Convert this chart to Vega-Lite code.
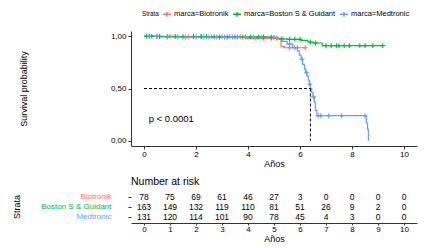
{
  "$schema": "https://vega.github.io/schema/vega-lite/v6.json",
  "autosize": {"type": "pad"},
  "padding": {"left": 12, "top": 9, "right": 5, "bottom": 5},
  "background": "white",
  "config": {
    "font": "Liberation Sans",
    "view": {"stroke": null},
    "axis": {"grid": false, "labelFont": "Liberation Sans", "titleFont": "Liberation Sans", "labelColor": "#000000", "titleColor": "#000000", "titleFontWeight": "normal", "domainColor": "#333333", "tickColor": "#333333", "labelFontSize": 8, "titleFontSize": 9, "labelOverlap": false}
  },
  "datasets": {
    "surv": [
      {"strata": "marca=Biotronik", "time": 0, "surv": 1.0, "censor": 0},
      {"strata": "marca=Biotronik", "time": 0.2, "surv": 1.0, "censor": 1},
      {"strata": "marca=Biotronik", "time": 0.5, "surv": 1.0, "censor": 1},
      {"strata": "marca=Biotronik", "time": 1.0, "surv": 1.0, "censor": 1},
      {"strata": "marca=Biotronik", "time": 1.4, "surv": 0.995, "censor": 0},
      {"strata": "marca=Biotronik", "time": 1.7, "surv": 0.995, "censor": 1},
      {"strata": "marca=Biotronik", "time": 2.2, "surv": 0.995, "censor": 1},
      {"strata": "marca=Biotronik", "time": 2.6, "surv": 0.995, "censor": 1},
      {"strata": "marca=Biotronik", "time": 3.0, "surv": 0.995, "censor": 1},
      {"strata": "marca=Biotronik", "time": 3.3, "surv": 0.995, "censor": 1},
      {"strata": "marca=Biotronik", "time": 3.7, "surv": 0.995, "censor": 1},
      {"strata": "marca=Biotronik", "time": 3.9, "surv": 0.98, "censor": 0},
      {"strata": "marca=Biotronik", "time": 4.3, "surv": 0.98, "censor": 1},
      {"strata": "marca=Biotronik", "time": 4.6, "surv": 0.98, "censor": 1},
      {"strata": "marca=Biotronik", "time": 4.9, "surv": 0.98, "censor": 1},
      {"strata": "marca=Biotronik", "time": 5.1, "surv": 0.98, "censor": 1},
      {"strata": "marca=Biotronik", "time": 5.27, "surv": 0.9, "censor": 0},
      {"strata": "marca=Biotronik", "time": 5.4, "surv": 0.89, "censor": 0},
      {"strata": "marca=Biotronik", "time": 5.6, "surv": 0.89, "censor": 1},
      {"strata": "marca=Biotronik", "time": 5.9, "surv": 0.89, "censor": 1},
      {"strata": "marca=Biotronik", "time": 6.2, "surv": 0.89, "censor": 1},

      {"strata": "marca=Boston S & Guidant", "time": 0, "surv": 1.0, "censor": 0},
      {"strata": "marca=Boston S & Guidant", "time": 0.1, "surv": 1.0, "censor": 1},
      {"strata": "marca=Boston S & Guidant", "time": 0.3, "surv": 1.0, "censor": 1},
      {"strata": "marca=Boston S & Guidant", "time": 0.5, "surv": 0.997, "censor": 0},
      {"strata": "marca=Boston S & Guidant", "time": 0.6, "surv": 0.997, "censor": 1},
      {"strata": "marca=Boston S & Guidant", "time": 0.9, "surv": 0.997, "censor": 1},
      {"strata": "marca=Boston S & Guidant", "time": 1.2, "surv": 0.997, "censor": 1},
      {"strata": "marca=Boston S & Guidant", "time": 1.5, "surv": 0.997, "censor": 1},
      {"strata": "marca=Boston S & Guidant", "time": 1.9, "surv": 0.997, "censor": 1},
      {"strata": "marca=Boston S & Guidant", "time": 2.2, "surv": 0.997, "censor": 1},
      {"strata": "marca=Boston S & Guidant", "time": 2.4, "surv": 0.997, "censor": 1},
      {"strata": "marca=Boston S & Guidant", "time": 2.5, "surv": 0.993, "censor": 0},
      {"strata": "marca=Boston S & Guidant", "time": 2.7, "surv": 0.993, "censor": 1},
      {"strata": "marca=Boston S & Guidant", "time": 2.9, "surv": 0.993, "censor": 1},
      {"strata": "marca=Boston S & Guidant", "time": 3.2, "surv": 0.993, "censor": 1},
      {"strata": "marca=Boston S & Guidant", "time": 3.5, "surv": 0.993, "censor": 1},
      {"strata": "marca=Boston S & Guidant", "time": 3.8, "surv": 0.993, "censor": 1},
      {"strata": "marca=Boston S & Guidant", "time": 4.1, "surv": 0.993, "censor": 1},
      {"strata": "marca=Boston S & Guidant", "time": 4.4, "surv": 0.993, "censor": 1},
      {"strata": "marca=Boston S & Guidant", "time": 4.6, "surv": 0.993, "censor": 1},
      {"strata": "marca=Boston S & Guidant", "time": 4.8, "surv": 0.99, "censor": 0},
      {"strata": "marca=Boston S & Guidant", "time": 4.9, "surv": 0.99, "censor": 1},
      {"strata": "marca=Boston S & Guidant", "time": 5.15, "surv": 0.975, "censor": 0},
      {"strata": "marca=Boston S & Guidant", "time": 5.3, "surv": 0.975, "censor": 1},
      {"strata": "marca=Boston S & Guidant", "time": 5.5, "surv": 0.97, "censor": 0},
      {"strata": "marca=Boston S & Guidant", "time": 5.6, "surv": 0.97, "censor": 1},
      {"strata": "marca=Boston S & Guidant", "time": 5.8, "surv": 0.97, "censor": 1},
      {"strata": "marca=Boston S & Guidant", "time": 6.0, "surv": 0.97, "censor": 1},
      {"strata": "marca=Boston S & Guidant", "time": 6.05, "surv": 0.96, "censor": 0},
      {"strata": "marca=Boston S & Guidant", "time": 6.3, "surv": 0.945, "censor": 0},
      {"strata": "marca=Boston S & Guidant", "time": 6.4, "surv": 0.945, "censor": 1},
      {"strata": "marca=Boston S & Guidant", "time": 6.5, "surv": 0.935, "censor": 0},
      {"strata": "marca=Boston S & Guidant", "time": 6.6, "surv": 0.935, "censor": 1},
      {"strata": "marca=Boston S & Guidant", "time": 6.85, "surv": 0.91, "censor": 0},
      {"strata": "marca=Boston S & Guidant", "time": 7.0, "surv": 0.91, "censor": 1},
      {"strata": "marca=Boston S & Guidant", "time": 7.2, "surv": 0.91, "censor": 1},
      {"strata": "marca=Boston S & Guidant", "time": 7.4, "surv": 0.91, "censor": 1},
      {"strata": "marca=Boston S & Guidant", "time": 7.5, "surv": 0.91, "censor": 1},
      {"strata": "marca=Boston S & Guidant", "time": 7.7, "surv": 0.91, "censor": 1},
      {"strata": "marca=Boston S & Guidant", "time": 7.9, "surv": 0.91, "censor": 1},
      {"strata": "marca=Boston S & Guidant", "time": 8.3, "surv": 0.91, "censor": 1},
      {"strata": "marca=Boston S & Guidant", "time": 8.5, "surv": 0.91, "censor": 1},
      {"strata": "marca=Boston S & Guidant", "time": 8.8, "surv": 0.91, "censor": 1},
      {"strata": "marca=Boston S & Guidant", "time": 9.18, "surv": 0.91, "censor": 1},

      {"strata": "marca=Medtronic", "time": 0, "surv": 1.0, "censor": 0},
      {"strata": "marca=Medtronic", "time": 0.2, "surv": 1.0, "censor": 1},
      {"strata": "marca=Medtronic", "time": 0.5, "surv": 1.0, "censor": 1},
      {"strata": "marca=Medtronic", "time": 0.7, "surv": 0.993, "censor": 0},
      {"strata": "marca=Medtronic", "time": 0.9, "surv": 0.993, "censor": 1},
      {"strata": "marca=Medtronic", "time": 1.3, "surv": 0.993, "censor": 1},
      {"strata": "marca=Medtronic", "time": 1.6, "surv": 0.993, "censor": 1},
      {"strata": "marca=Medtronic", "time": 2.0, "surv": 0.993, "censor": 1},
      {"strata": "marca=Medtronic", "time": 2.3, "surv": 0.993, "censor": 1},
      {"strata": "marca=Medtronic", "time": 2.5, "surv": 0.993, "censor": 1},
      {"strata": "marca=Medtronic", "time": 2.8, "surv": 0.993, "censor": 1},
      {"strata": "marca=Medtronic", "time": 3.1, "surv": 0.993, "censor": 1},
      {"strata": "marca=Medtronic", "time": 3.4, "surv": 0.993, "censor": 1},
      {"strata": "marca=Medtronic", "time": 3.6, "surv": 0.993, "censor": 1},
      {"strata": "marca=Medtronic", "time": 3.9, "surv": 0.993, "censor": 1},
      {"strata": "marca=Medtronic", "time": 4.0, "surv": 0.99, "censor": 0},
      {"strata": "marca=Medtronic", "time": 4.2, "surv": 0.99, "censor": 1},
      {"strata": "marca=Medtronic", "time": 4.5, "surv": 0.99, "censor": 1},
      {"strata": "marca=Medtronic", "time": 5.0, "surv": 0.99, "censor": 1},
      {"strata": "marca=Medtronic", "time": 5.1, "surv": 0.975, "censor": 0},
      {"strata": "marca=Medtronic", "time": 5.3, "surv": 0.95, "censor": 0},
      {"strata": "marca=Medtronic", "time": 5.5, "surv": 0.925, "censor": 0},
      {"strata": "marca=Medtronic", "time": 5.6, "surv": 0.925, "censor": 1},
      {"strata": "marca=Medtronic", "time": 5.72, "surv": 0.89, "censor": 0},
      {"strata": "marca=Medtronic", "time": 5.8, "surv": 0.89, "censor": 1},
      {"strata": "marca=Medtronic", "time": 5.9, "surv": 0.86, "censor": 0},
      {"strata": "marca=Medtronic", "time": 5.97, "surv": 0.82, "censor": 0},
      {"strata": "marca=Medtronic", "time": 6.04, "surv": 0.78, "censor": 0},
      {"strata": "marca=Medtronic", "time": 6.08, "surv": 0.78, "censor": 1},
      {"strata": "marca=Medtronic", "time": 6.1, "surv": 0.73, "censor": 0},
      {"strata": "marca=Medtronic", "time": 6.17, "surv": 0.685, "censor": 0},
      {"strata": "marca=Medtronic", "time": 6.22, "surv": 0.65, "censor": 0},
      {"strata": "marca=Medtronic", "time": 6.25, "surv": 0.65, "censor": 1},
      {"strata": "marca=Medtronic", "time": 6.27, "surv": 0.62, "censor": 0},
      {"strata": "marca=Medtronic", "time": 6.32, "surv": 0.58, "censor": 0},
      {"strata": "marca=Medtronic", "time": 6.36, "surv": 0.54, "censor": 0},
      {"strata": "marca=Medtronic", "time": 6.38, "surv": 0.54, "censor": 1},
      {"strata": "marca=Medtronic", "time": 6.4, "surv": 0.5, "censor": 0},
      {"strata": "marca=Medtronic", "time": 6.45, "surv": 0.46, "censor": 0},
      {"strata": "marca=Medtronic", "time": 6.5, "surv": 0.42, "censor": 0},
      {"strata": "marca=Medtronic", "time": 6.52, "surv": 0.42, "censor": 1},
      {"strata": "marca=Medtronic", "time": 6.55, "surv": 0.37, "censor": 0},
      {"strata": "marca=Medtronic", "time": 6.59, "surv": 0.29, "censor": 0},
      {"strata": "marca=Medtronic", "time": 6.65, "surv": 0.24, "censor": 0},
      {"strata": "marca=Medtronic", "time": 6.7, "surv": 0.24, "censor": 1},
      {"strata": "marca=Medtronic", "time": 6.8, "surv": 0.24, "censor": 1},
      {"strata": "marca=Medtronic", "time": 7.1, "surv": 0.24, "censor": 1},
      {"strata": "marca=Medtronic", "time": 7.6, "surv": 0.24, "censor": 1},
      {"strata": "marca=Medtronic", "time": 8.5, "surv": 0.24, "censor": 1},
      {"strata": "marca=Medtronic", "time": 8.55, "surv": 0.17, "censor": 0},
      {"strata": "marca=Medtronic", "time": 8.6, "surv": 0.11, "censor": 0},
      {"strata": "marca=Medtronic", "time": 8.63, "surv": 0.0, "censor": 0}
    ],
    "risk": [
      {"strata": "Biotronik", "time": 0, "n": 78}, {"strata": "Biotronik", "time": 1, "n": 75}, {"strata": "Biotronik", "time": 2, "n": 69}, {"strata": "Biotronik", "time": 3, "n": 61}, {"strata": "Biotronik", "time": 4, "n": 46}, {"strata": "Biotronik", "time": 5, "n": 27}, {"strata": "Biotronik", "time": 6, "n": 3}, {"strata": "Biotronik", "time": 7, "n": 0}, {"strata": "Biotronik", "time": 8, "n": 0}, {"strata": "Biotronik", "time": 9, "n": 0}, {"strata": "Biotronik", "time": 10, "n": 0},
      {"strata": "Boston S & Guidant", "time": 0, "n": 163}, {"strata": "Boston S & Guidant", "time": 1, "n": 149}, {"strata": "Boston S & Guidant", "time": 2, "n": 132}, {"strata": "Boston S & Guidant", "time": 3, "n": 119}, {"strata": "Boston S & Guidant", "time": 4, "n": 110}, {"strata": "Boston S & Guidant", "time": 5, "n": 81}, {"strata": "Boston S & Guidant", "time": 6, "n": 51}, {"strata": "Boston S & Guidant", "time": 7, "n": 26}, {"strata": "Boston S & Guidant", "time": 8, "n": 9}, {"strata": "Boston S & Guidant", "time": 9, "n": 2}, {"strata": "Boston S & Guidant", "time": 10, "n": 0},
      {"strata": "Medtronic", "time": 0, "n": 131}, {"strata": "Medtronic", "time": 1, "n": 120}, {"strata": "Medtronic", "time": 2, "n": 114}, {"strata": "Medtronic", "time": 3, "n": 101}, {"strata": "Medtronic", "time": 4, "n": 90}, {"strata": "Medtronic", "time": 5, "n": 78}, {"strata": "Medtronic", "time": 6, "n": 45}, {"strata": "Medtronic", "time": 7, "n": 4}, {"strata": "Medtronic", "time": 8, "n": 3}, {"strata": "Medtronic", "time": 9, "n": 0}, {"strata": "Medtronic", "time": 10, "n": 0}
    ]
  },
  "spacing": 8,
  "vconcat": [
    {
      "width": 286,
      "height": 115,
      "layer": [
        {
          "data": {"name": "surv"},
          "mark": {"type": "line", "interpolate": "step-after", "strokeWidth": 1.2},
          "encoding": {
            "x": {"field": "time", "type": "quantitative", "scale": {"domain": [-0.5, 10.5], "nice": false, "zero": false},
              "axis": {"values": [0,1,2,3,4,5,6,7,8,9,10], "title": "Años", "tickSize": 3, "labelPadding": 1, "titlePadding": 1, "labelFlush": false}},
            "y": {"field": "surv", "type": "quantitative", "scale": {"domain": [-0.05, 1.05], "nice": false, "zero": false},
              "axis": {"values": [0, 0.25, 0.5, 0.75, 1], "title": "Survival probability", "tickSize": 3, "labelPadding": 2, "titlePadding": 82, "labelExpr": "replace(format(datum.value, '.2f'), '.', ',')", "labelFlush": false}},
            "color": {"field": "strata", "type": "nominal", "scale": {"domain": ["marca=Biotronik", "marca=Boston S & Guidant", "marca=Medtronic"], "range": ["#F8766D", "#00BA38", "#619CFF"]},
              "legend": {"orient": "none", "legendX": 11, "legendY": -22, "direction": "horizontal", "title": "Strata", "titleOrient": "left", "titleFontSize": 6.3, "titleFontWeight": "normal", "titleColor": "#000000", "labelFontSize": 7.5, "labelColor": "#000000", "labelLimit": 200, "symbolType": "M-1,0H1M0,-0.6V0.6", "symbolSize": 64, "symbolStrokeWidth": 1.5, "symbolFillColor": "transparent", "columnPadding": 1, "labelOffset": 2, "titlePadding": 3}},
            "detail": {"field": "strata"}
          }
        },
        {
          "data": {"name": "surv"},
          "transform": [{"filter": "datum.censor == 1"}],
          "mark": {"type": "point", "shape": "M-1,0H1M0,-1V1", "filled": false, "size": 25, "strokeWidth": 1.1, "opacity": 1},
          "encoding": {
            "x": {"field": "time", "type": "quantitative"},
            "y": {"field": "surv", "type": "quantitative"},
            "color": {"field": "strata", "type": "nominal"}
          }
        },
        {
          "data": {"values": [{"x": 0, "x2": 6.4, "y": 0.5}]},
          "mark": {"type": "rule", "strokeDash": [3, 2], "color": "#000000", "strokeWidth": 1},
          "encoding": {"x": {"field": "x", "type": "quantitative"}, "x2": {"field": "x2"}, "y": {"field": "y", "type": "quantitative"}}
        },
        {
          "data": {"values": [{"x": 6.4, "y": 0.5, "y2": 0}]},
          "mark": {"type": "rule", "strokeDash": [3, 2], "color": "#000000", "strokeWidth": 1},
          "encoding": {"x": {"field": "x", "type": "quantitative"}, "y": {"field": "y", "type": "quantitative"}, "y2": {"field": "y2"}}
        },
        {
          "data": {"values": [{"x": 0.18, "y": 0.21, "label": "p < 0.0001"}]},
          "mark": {"type": "text", "align": "left", "baseline": "middle", "fontSize": 9.5, "font": "Liberation Sans", "color": "#000000"},
          "encoding": {"x": {"field": "x", "type": "quantitative"}, "y": {"field": "y", "type": "quantitative"}, "text": {"field": "label"}}
        }
      ]
    },
    {
      "width": 286,
      "height": 33,
      "title": {"text": "Number at risk", "anchor": "start", "frame": "group", "fontSize": 10.5, "fontWeight": "normal", "font": "Liberation Sans", "color": "#000000", "offset": 3},
      "data": {"name": "risk"},
      "mark": {"type": "text", "fontSize": 8.5, "font": "Liberation Sans", "color": "#000000"},
      "encoding": {
        "x": {"field": "time", "type": "quantitative", "scale": {"domain": [-0.5, 10.5], "nice": false, "zero": false},
          "axis": {"values": [0,1,2,3,4,5,6,7,8,9,10], "title": "Años", "tickSize": 2, "labelPadding": 0, "titlePadding": 1, "labelFlush": false}},
        "y": {"field": "strata", "type": "ordinal", "scale": {"type": "point", "domain": ["Biotronik", "Boston S & Guidant", "Medtronic"], "padding": 0.65},
          "axis": {"title": "Strata", "domain": false, "tickSize": 3, "labelPadding": 17, "titlePadding": 19,
            "labelColor": {"condition": [{"test": "datum.value === 'Biotronik'", "value": "#F8766D"}, {"test": "datum.value === 'Boston S & Guidant'", "value": "#00BA38"}], "value": "#619CFF"}}},
        "text": {"field": "n", "type": "quantitative"}
      }
    }
  ]
}
